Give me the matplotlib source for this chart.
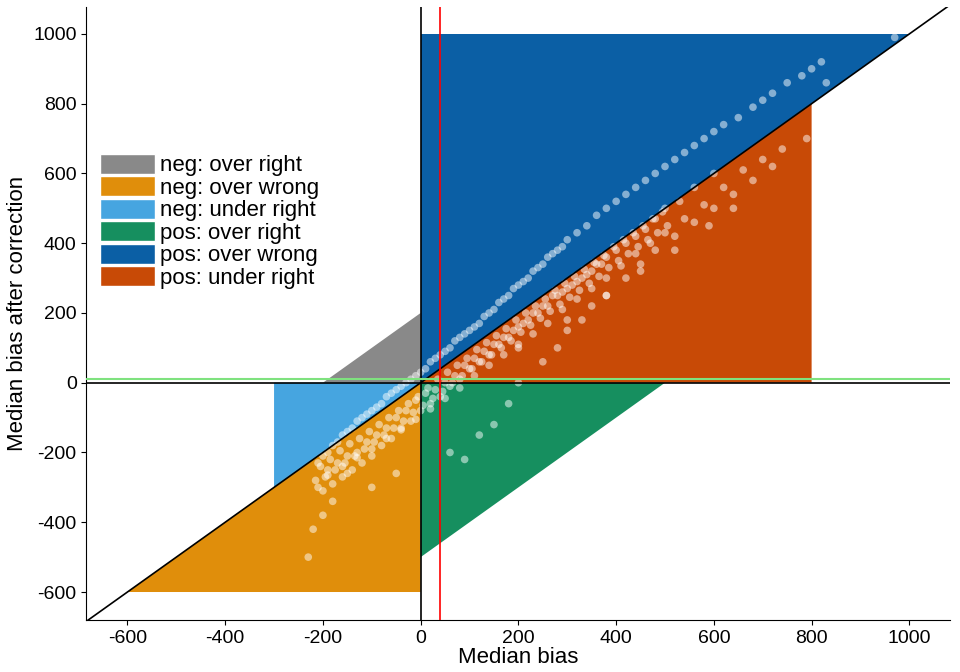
import matplotlib.pyplot as plt
from matplotlib.patches import Polygon, Patch

plt.rcParams['font.family'] = ['Liberation Sans', 'DejaVu Sans']
plt.rcParams['axes.unicode_minus'] = False

# region polygons (data space)
regions = {
    "neg: over right": ("#898989", [(-200, 0), (0, 200), (0, 0)]),
    "neg: over wrong": ("#E08E0B", [(-600, -600), (0, 0), (0, -600)]),
    "neg: under right": ("#46A5E0", [(-300, 0), (0, 0), (-300, -300)]),
    "pos: over right": ("#168F5F", [(0, 0), (0, -500), (500, 0)]),
    "pos: over wrong": ("#0B5FA5", [(0, 0), (0, 1000), (1000, 1000)]),
    "pos: under right": ("#C84A06", [(0, 0), (800, 800), (800, 0)]),
}

# simulation results (median bias, after correction)
pts_x = [-210, -200, -190, -180, -170, -160, -150, -140, -130, -120, -110, -100, -90, -80, -70, -60,
         -50, -40, -30, -20, -10, 0, 10, 20, 30, 40, 50, 60, 70, 80, 90, 100, 110, 120, 130, 140,
         150, 160, 170, 180, 190, 200, 210, 220, 230, 240, 250, 260, 270, 280, 290, 300, 320, 340,
         360, 380, 400, 420, 440, 460, 480, 500, 520, 540, 560, 580, 600, 620, 650, 680, 700, 720,
         750, 780, 800, 820, 970,
         -210, -200, -180, -160, -150, -140, -120, -100, -80, -60, -40, -20, 0, 20, 40, 60, 80,
         100, 120, 140, 160, 180, 200, 220, 240, 260, 280, 300, 320, 340, 360, 380, 400, 420,
         440, 460, 480, 500, 530, 560, 600,
         -190, -170, -150, -130, -110, -90, -70, -50, -30, -10, 10, 30, 50, 70, 90, 110, 130, 150,
         170, 190, 210, 230, 250, 270, 290, 310, 330, 350, 370,
         -230, -220, -200, -180, -100, -50, 60, 90, 120, 150, 180, 200, 250, 280, 300, 330, 350,
         380, 420, 450, 480, 520, 560, 600, 640, 680, 720, 200, 300, 380, 450, 520, 590, 640,
         -205, -185, -165, -145, -125, -105, -85, -65, -45, -25, -5, 15, 35, 55, 75, 95, 115, 135,
         155, 175, 195, 215, 235, 255, 275, 295, 315, 335, 355, 375, 395, 415, 435, 455, 475, 495,
         -195, -175, -155, -135, -115, -95, -75, -55, -35, -15, 5, 25, 45, 65, 85, 105, 125, 145,
         165, 185, 205, 225, 245, 265, 285, 305, 325, 345, 365, 385, 405, 425, 445, 465, 485, 505,
         -215, -190, -160, -130, -100, -70, -40, -10, 20, 50, 80, 110, 140, 170, 200, 230, 260,
         290, 320, 350, 380, 410, 440, 470, 500, 540, 580, 620, 660, 700, 740, 790, 830]
pts_y = [-230, -210, -200, -180, -170, -150, -140, -130, -110, -100, -90, -80, -70, -60, -40, -30,
         -20, -10, 0, 10, 20, 30, 40, 60, 70, 80, 90, 100, 120, 130, 140, 150, 160, 170, 190, 200,
         210, 230, 240, 250, 270, 280, 290, 300, 320, 330, 340, 360, 370, 380, 390, 410, 430, 450,
         480, 500, 520, 540, 560, 580, 600, 620, 640, 660, 680, 700, 720, 740, 760, 790, 810, 830,
         860, 880, 900, 920, 990,
         -300, -310, -290, -270, -260, -250, -230, -210, -180, -160, -130, -110, -80, -60, -40,
         -10, 10, 40, 60, 80, 110, 130, 160, 180, 200, 220, 250, 270, 290, 310, 340, 360, 380, 400,
         420, 440, 470, 500, 520, 560, 600,
         -250, -230, -210, -200, -170, -150, -130, -100, -80, -50, -30, -20, 0, 20, 50, 70, 90, 110,
         130, 150, 170, 200, 220, 250, 260, 280, 300, 320, 340,
         -500, -420, -380, -340, -300, -260, -200, -220, -150, -120, -60, 0, 60, 100, 150, 180, 220,
         250, 300, 340, 380, 420, 460, 500, 540, 580, 620, 100, 180, 250, 320, 380, 450, 500,
         -240, -220, -195, -175, -160, -140, -120, -100, -80, -60, -40, -15, 10, 30, 50, 70, 95, 115,
         135, 155, 180, 200, 220, 240, 265, 285, 305, 325, 345, 365, 390, 410, 430, 450, 470, 490,
         -270, -250, -230, -210, -190, -170, -150, -130, -110, -85, -65, -45, -25, 0, 20, 40, 60, 80,
         100, 120, 145, 165, 185, 205, 225, 245, 265, 285, 305, 330, 350, 370, 390, 410, 430, 450,
         -280, -265, -240, -215, -190, -160, -135, -105, -75, -45, -15, 20, 50, 80, 110, 140, 170,
         210, 240, 270, 300, 335, 370, 400, 430, 470, 510, 560, 610, 640, 670, 700, 860]

fig, ax = plt.subplots(figsize=(9.6, 6.72), dpi=100)
fig.subplots_adjust(left=0.09, right=0.99, top=0.99, bottom=0.077)

for name, (col, verts) in regions.items():
    ax.add_patch(Polygon(verts, closed=True, facecolor=col, edgecolor='none', zorder=1))

ax.scatter(pts_x, pts_y, s=30, color='white', alpha=0.5, edgecolors='none', zorder=3)

ax.plot([-700, 1100], [-700, 1100], color='black', lw=1.2, zorder=4)
ax.axhline(0, color='black', lw=1.2, zorder=4)
ax.axvline(0, color='black', lw=1.2, zorder=4)
ax.axhline(10, color='#7FE27F', lw=1.5, zorder=4)
ax.axvline(40, color='red', lw=1.2, zorder=4)

ax.set_xlim(-684, 1084)
ax.set_ylim(-681, 1078)
ax.set_xticks(range(-600, 1001, 200))
ax.set_yticks(range(-600, 1001, 200))
ax.tick_params(labelsize=14)
ax.set_xlabel("Median bias", fontsize=16, labelpad=0)
ax.set_ylabel("Median bias after correction", fontsize=16)
ax.spines['top'].set_visible(False)
ax.spines['right'].set_visible(False)

handles = [Patch(facecolor=c, edgecolor='white') for c, _ in regions.values()]
ax.legend(handles, list(regions.keys()), loc='upper left', bbox_to_anchor=(0.005, 0.775),
          frameon=False, fontsize=16, handlelength=2.5, handleheight=1.0,
          labelspacing=0.0, handletextpad=0.2, borderaxespad=0)

fig.savefig("out.png")
